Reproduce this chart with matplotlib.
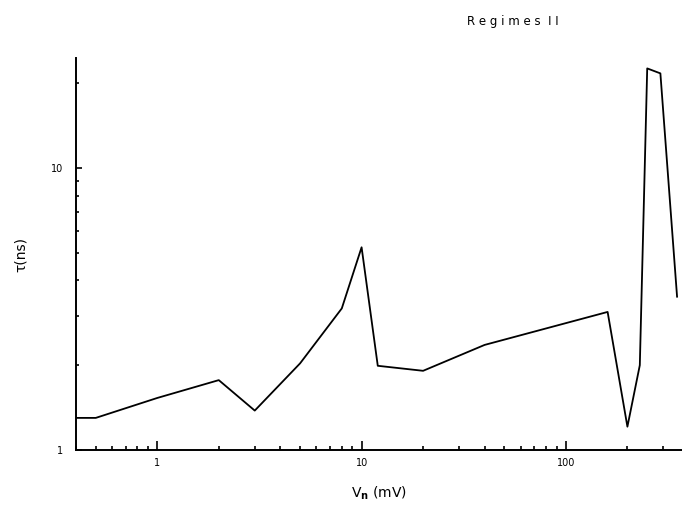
import matplotlib
matplotlib.use('Agg')
import matplotlib.pyplot as plt
from matplotlib.ticker import LogLocator, FixedLocator, NullFormatter, FixedFormatter

# --- data ---
v_mv = [0.4, 0.5, 1.0, 2.0, 3.0, 5.0, 8.0, 10.0, 12.0, 20.0, 40.0, 160.0, 200.0, 230.0, 250.0, 290.0, 350.0]
tau_ns = [1.3, 1.3, 1.53, 1.77, 1.38, 2.03, 3.18, 5.24, 1.99, 1.91, 2.36, 3.09, 1.21, 2.0, 22.6, 21.7, 3.5]

x_major = [1, 10, 100]
x_labels = ['1', '10', '100']
y_major = [1, 10]
y_labels = ['1', '10']

plt.rcParams['font.family'] = ['DejaVu Sans']

fig = plt.figure(figsize=(6.82, 5.09), dpi=100)
ax = fig.add_axes([0.1114, 0.1159, 0.8886, 0.7701])

ax.plot(v_mv, tau_ns, color='black', linewidth=1.3)

ax.set_xscale('log')
ax.set_yscale('log')
ax.set_xlim(0.4, 370)
ax.set_ylim(1, 24.6)

ax.xaxis.set_major_locator(FixedLocator(x_major))
ax.xaxis.set_major_formatter(FixedFormatter(x_labels))
ax.xaxis.set_minor_locator(LogLocator(base=10, subs=range(2, 10), numticks=20))
ax.xaxis.set_minor_formatter(NullFormatter())
ax.yaxis.set_major_locator(FixedLocator(y_major))
ax.yaxis.set_major_formatter(FixedFormatter(y_labels))
ax.yaxis.set_minor_locator(LogLocator(base=10, subs=range(2, 10), numticks=20))
ax.yaxis.set_minor_formatter(NullFormatter())

ax.tick_params(which='both', direction='in', width=1.2, labelsize=7)
ax.tick_params(axis='x', which='major', length=6.5, pad=6)
ax.tick_params(axis='x', which='minor', length=3.2)
ax.tick_params(axis='y', which='major', length=4.5, pad=9)
ax.tick_params(axis='y', which='minor', length=2.2)

for side in ['top', 'right']:
    ax.spines[side].set_visible(False)
for side in ['left', 'bottom']:
    ax.spines[side].set_linewidth(1.4)

ax.set_xlabel(r'V$_{\mathbf{n}}$ (mV)', fontsize=10, labelpad=12)
ax.set_ylabel('τ(ns)', fontsize=10, labelpad=17)

fig.text(0.752, 0.957, 'R e g i m e s  I I', fontsize=8.5, ha='center', va='center')

plt.savefig('out.png', dpi=100)
